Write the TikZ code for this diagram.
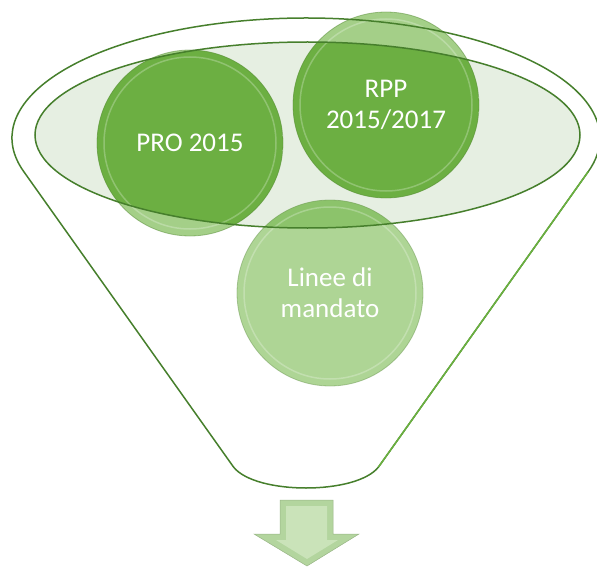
\documentclass[tikz,border=0pt]{standalone}
\usepackage{fontspec}
\setmainfont{Carlito}
\usepackage{tikz}
\usetikzlibrary{calc}
\definecolor{ballDark}{HTML}{6CAF42}
\definecolor{ballLight}{HTML}{A4CF88}
\definecolor{ballPaleDark}{HTML}{8CC36B}
\definecolor{ballPaleLight}{HTML}{AED595}
\definecolor{rimFill}{HTML}{E6EFE2}
\definecolor{funnelLine}{HTML}{467F2C}
\definecolor{funnelLineLight}{HTML}{6AB03F}
\definecolor{arrowEdge}{HTML}{B3D59E}
\definecolor{arrowFace}{HTML}{CAE3B9}
\tikzset{
  fn line/.style={draw=funnelLine, line width=1.5pt},
  fn ball/.style 2 args={circle, minimum size=186pt, inner sep=0pt, align=center,
    text=white, font=\fontsize{27}{31}\selectfont, fill=#1,
    draw=#2!80!black, draw opacity=.5, line width=.8pt,
    path picture={
      \begin{scope}
        \clip (rim) ellipse [x radius=272.5, y radius=93];
        \fill[#2] (path picture bounding box.south west) rectangle (path picture bounding box.north east);
      \end{scope}
      \draw[white, opacity=.25, line width=1.5pt] (path picture bounding box.center) circle [radius=86];
    }}
}
\begin{document}
\begin{tikzpicture}[x=1pt, y=1pt]
    \useasboundingbox (0,0) rectangle (597,-567);

    % Funnel
    \coordinate (rim) at (307.5,-135);
    \coordinate (west lip) at (23.7,-171.5);
    \coordinate (east lip) at (588.3,-171.5);
    \coordinate (west neck) at (233.5,-467);
    \coordinate (east neck) at (378.5,-467);
    \fill[white] (west lip) arc [start angle=196.2, end angle=-16.2, x radius=294, y radius=120]
        -- (east neck) .. controls +(-22,-28) and +(22,-28) .. (west neck) -- cycle;
    \fill[rimFill] (rim) ellipse [x radius=272.5, y radius=93];

    % Items
    \node [fn ball={ballLight}{ballDark}] (pro) at (190,-143) {PRO 2015};
    \node [fn ball={ballLight}{ballDark}] (rpp) at (386,-105) {RPP\\2015/2017};
    \node [fn ball={ballPaleLight}{ballPaleDark}] (lin) at (330,-293) {Linee di\\mandato};

    % Outlines
    \draw [fn line] (west lip) arc [start angle=196.2, end angle=-16.2, x radius=294, y radius=120]
        -- (east neck) .. controls +(-22,-28) and +(22,-28) .. (west neck) -- cycle;
    \draw [fn line, draw=funnelLineLight] (east lip) -- (east neck);
    \draw [fn line] (rim) ellipse [x radius=272.5, y radius=93];

    % Output arrow
    \filldraw [fill=arrowEdge, draw=arrowEdge!85!black, line width=.5pt]
        (280,-500) -- (333,-500) -- (333,-534) -- (359,-534) -- (307,-566) -- (254,-534) -- (280,-534) -- cycle;
    \fill [arrowFace] (286,-506) -- (327,-506) -- (327,-540) -- (338,-540) -- (307,-559) -- (276,-540) -- (286,-540) -- cycle;
\end{tikzpicture}
\end{document}
